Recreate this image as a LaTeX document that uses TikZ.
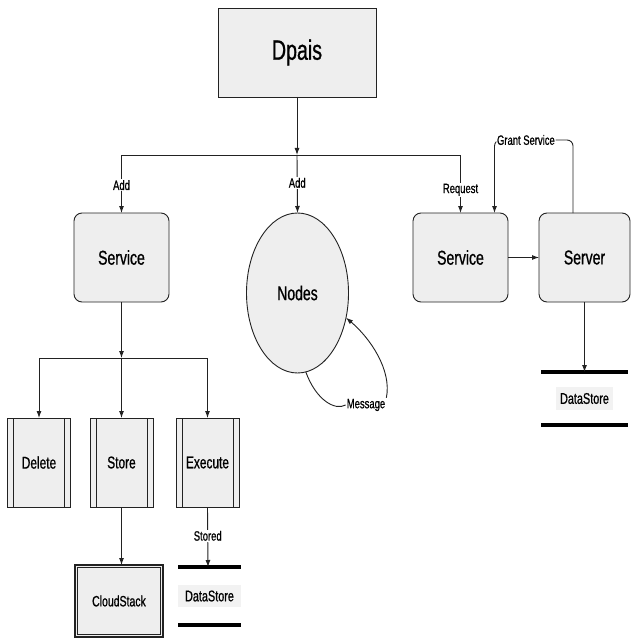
\documentclass[tikz,border=0pt]{standalone}
\usepackage{fontspec}
\setmainfont{Liberation Sans}[FakeStretch=0.7, FakeBold=0.8]
\usetikzlibrary{arrows.meta,shapes.geometric,calc}

\definecolor{boxfill}{HTML}{EEEEEE}
\definecolor{edge}{HTML}{222222}
\definecolor{textbg}{HTML}{F2F2F2}

\newcommand{\fs}[1]{\fontsize{#1}{#1}\selectfont}

\tikzset{
  base/.style={draw=edge, line width=0.9pt, fill=boxfill, inner sep=0pt, outer sep=0pt},
  svcbox/.style={base, rounded corners=8pt, minimum width=95pt, minimum height=89pt, font=\fs{20}},
  procbox/.style={base, minimum width=63pt, minimum height=89pt, font=\fs{17},
    path picture={
      \draw[edge, line width=0.7pt] ([xshift=6pt]path picture bounding box.north west) -- ([xshift=6pt]path picture bounding box.south west);
      \draw[edge, line width=0.7pt] ([xshift=-6pt]path picture bounding box.north east) -- ([xshift=-6pt]path picture bounding box.south east);
    }},
  framebox/.style={base, line width=1.1pt,
    path picture={
      \draw[edge, line width=0.7pt] ([shift={(2.8pt,-2.8pt)}]path picture bounding box.north west) rectangle ([shift={(-2.8pt,2.8pt)}]path picture bounding box.south east);
    }},
  dsframe/.style={inner sep=0pt, outer sep=0pt},
  dstext/.style={fill=textbg, inner xsep=4pt, inner ysep=6pt, font=\fs{15.5}},
  bar/.style={line width=4pt, black},
  conn/.style={draw=edge, line width=0.9pt},
  arr/.style={conn, -{Latex[length=7pt,width=5pt]}},
  lbl/.style={fill=white, inner sep=1pt, font=\fs{13.5}},
}

\begin{document}
\begin{tikzpicture}[x=1pt, y=-1pt]
  \useasboundingbox (0,0) rectangle (630,639);

  % top level
  \node[base, minimum width=158pt, minimum height=89pt, font=\fs{28}] (dpais) at (297,52.5) {Dpais};
  \coordinate (split) at (297,155);

  % second row
  \node[svcbox] (svcL) at (121.5,257.5) {Service};
  \node[base, ellipse, minimum width=102pt, minimum height=160pt, font=\fs{20}] (nodes) at (297.5,293) {Nodes};
  \node[svcbox] (svcR) at (460.5,257.5) {Service};
  \node[svcbox, minimum width=91pt] (server) at (584.5,257.5) {Server};

  % operations under the left service
  \coordinate (branch) at (121.5,358);
  \node[procbox] (delete) at (39,462.5) {Delete};
  \node[procbox] (store) at (121.5,462.5) {Store};
  \node[procbox] (execute) at (207.5,462.5) {Execute};

  \node[framebox, minimum width=88pt, minimum height=72pt, font=\fs{15}] (cloud) at (119,601) {CloudStack};

  % data stores
  \node[dsframe, minimum width=63pt, minimum height=58pt] (dsL) at (209.5,596) {};
  \node[dstext, minimum width=63pt] at (dsL) {DataStore};
  \draw[bar] (dsL.north west) -- (dsL.north east);
  \draw[bar] (dsL.south west) -- (dsL.south east);

  \node[dsframe, minimum width=87pt, minimum height=53pt] (dsR) at (584.5,398.5) {};
  \node[dstext] at (dsR) {DataStore};
  \draw[bar] (dsR.north west) -- (dsR.north east);
  \draw[bar] (dsR.south west) -- (dsR.south east);

  % connectors from the top
  \draw[arr] (dpais.south) -- (split);
  \draw[arr] (split) -| (svcL.north) node[lbl, pos=0.76] {Add};
  \draw[arr] (split) -- (nodes.north) node[lbl, pos=0.48] {Add};
  \draw[arr] (split) -| (svcR.north) node[lbl, pos=0.8] {Request};

  % service to server and back
  \draw[arr] (svcR.east) -- (server.west);
  \draw[arr, rounded corners=6pt] ([xshift=-11.5pt]server.north) -- ++(0,-73) -| ([xshift=34pt]svcR.north)
    node[lbl, pos=0.3] {Grant Service};
  \draw[arr] (server.south) -- (dsR.north);

  % message loop on the nodes
  \node[lbl] (msg) at (366,405) {Message};
  \draw[conn] (nodes.-84) .. controls (316,400) and (335,411) .. (msg.west);
  \draw[arr] (msg.north east) .. controls (392,370) and (370,338) .. (nodes.-27);

  % left branch
  \draw[arr] (svcL.south) -- (branch);
  \draw[arr] (branch) -| (delete.north);
  \draw[arr] (branch) -- (store.north);
  \draw[arr] (branch) -| (execute.north);

  \draw[arr] (store.south) -- (store.south |- cloud.north);
  \draw[arr] (execute.south) -- ([xshift=-1.5pt]dsL.north) node[lbl, pos=0.48] {Stored};
\end{tikzpicture}
\end{document}
